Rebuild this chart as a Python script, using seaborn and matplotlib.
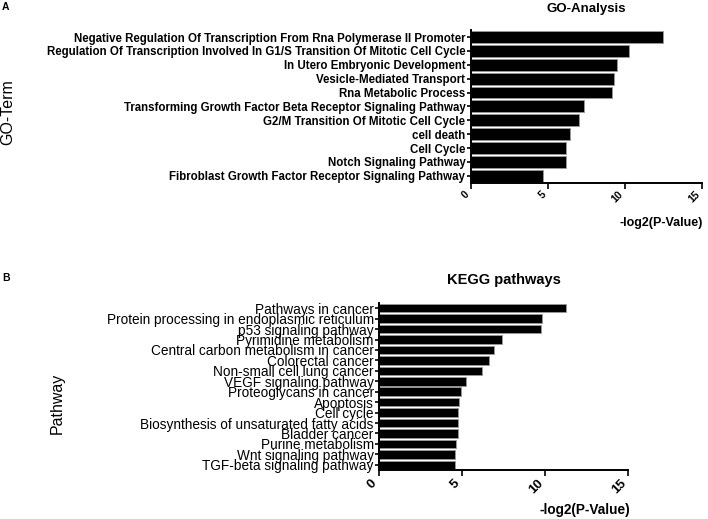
import matplotlib
matplotlib.use("Agg")
import matplotlib.pyplot as plt
import seaborn as sns
import pandas as pd

go_terms = [
    "Negative Regulation Of Transcription From Rna Polymerase II Promoter",
    "Regulation Of Transcription Involved In G1/S Transition Of Mitotic Cell Cycle",
    "In Utero Embryonic Development",
    "Vesicle-Mediated Transport",
    "Rna Metabolic Process",
    "Transforming Growth Factor Beta Receptor Signaling Pathway",
    "G2/M Transition Of Mitotic Cell Cycle",
    "cell death",
    "Cell Cycle",
    "Notch Signaling Pathway",
    "Fibroblast Growth Factor Receptor Signaling Pathway",
]
go_values = [12.5, 10.28, 9.48, 9.31, 9.2, 7.38, 7.06, 6.45, 6.19, 6.17, 4.7]

kegg_terms = [
    "Pathways in cancer",
    "Protein processing in endoplasmic reticulum",
    "p53 signaling pathway",
    "Pyrimidine metabolism",
    "Central carbon metabolism in cancer",
    "Colorectal cancer",
    "Non-small cell lung cancer",
    "VEGF signaling pathway",
    "Proteoglycans in cancer",
    "Apoptosis",
    "Cell cycle",
    "Biosynthesis of unsaturated fatty acids",
    "Bladder cancer",
    "Purine metabolism",
    "Wnt signaling pathway",
    "TGF-beta signaling pathway",
]
kegg_values = [11.24, 9.78, 9.72, 7.37, 6.93, 6.63, 6.16, 5.22, 4.94, 4.8, 4.76,
               4.76, 4.72, 4.62, 4.54, 4.54]

x_ticks = [0, 5, 10, 15]

sns.set_style("white")
plt.rcParams["font.family"] = ["Liberation Sans", "DejaVu Sans"]
plt.rcParams["text.color"] = "black"
plt.rcParams["axes.labelcolor"] = "black"
plt.rcParams["xtick.color"] = "black"
plt.rcParams["ytick.color"] = "black"

fig = plt.figure(figsize=(7.08, 5.19), dpi=100)
axA = fig.add_axes([0.665, 0.648, 0.326, 0.294])
axB = fig.add_axes([0.5357, 0.0944, 0.3517, 0.3218])

dfA = pd.DataFrame({"term": go_terms, "value": go_values})
dfB = pd.DataFrame({"term": kegg_terms, "value": kegg_values})

sns.barplot(data=dfA, x="value", y="term", orient="h", color="black",
            saturation=1, width=0.86, edgecolor="#9a9a9a", linewidth=0.6, ax=axA)
sns.barplot(data=dfB, x="value", y="term", orient="h", color="black",
            saturation=1, width=0.82, edgecolor="#9a9a9a", linewidth=0.6, ax=axB)

for ax, n, ylab_size, ylab_weight, xt_size in [
    (axA, len(go_terms), 8.3, "bold", 7.5),
    (axB, len(kegg_terms), 9.8, "normal", 9.5),
]:
    ax.set_xlim(0, 15)
    ax.set_ylim(n - 0.5, -0.5)
    ax.set_xticks(x_ticks)
    ax.set_xticklabels([str(t) for t in x_ticks], rotation=45, ha="right",
                       fontsize=xt_size, fontweight="bold", color="black")
    for lbl in ax.get_yticklabels():
        lbl.set_fontsize(ylab_size)
        lbl.set_fontweight(ylab_weight)
        lbl.set_color("black")
    ax.set_xlabel("")
    ax.set_ylabel("")
    for s in ["top", "right"]:
        ax.spines[s].set_visible(False)
    for s in ["left", "bottom"]:
        ax.spines[s].set_linewidth(1.4)
        ax.spines[s].set_color("black")
    ax.tick_params(axis="y", left=True, length=3, width=1.2, pad=1, colors="black")
    ax.tick_params(axis="x", bottom=True, length=4, width=1.2, pad=1, colors="black")

axA.set_title("GO-Analysis", fontsize=9.5, fontweight="bold", pad=13, color="black")
axB.set_title("KEGG pathways", fontsize=10.5, fontweight="bold", pad=13.5, color="black")

fig.text(0.9925, 1 - 222.7 / 519, "-log2(P-Value)", ha="right", va="center",
         fontsize=9, fontweight="bold")
fig.text(630 / 708, 1 - 510 / 519, "-log2(P-Value)", ha="right", va="center",
         fontsize=9.8, fontweight="bold")

fig.text(8 / 708, 1 - 112 / 519, "GO-Term", rotation=90, ha="center", va="center",
         fontsize=11.5)
fig.text(57 / 708, 1 - 403 / 519, "Pathway", rotation=90, ha="center", va="center",
         fontsize=11.5)

fig.text(2 / 708, 1 - 7 / 519, "A", ha="left", va="center", fontsize=7.5, fontweight="bold")
fig.text(2 / 708, 1 - 278 / 519, "B", ha="left", va="center", fontsize=7.5, fontweight="bold")

fig.savefig("out.png", dpi=100)
